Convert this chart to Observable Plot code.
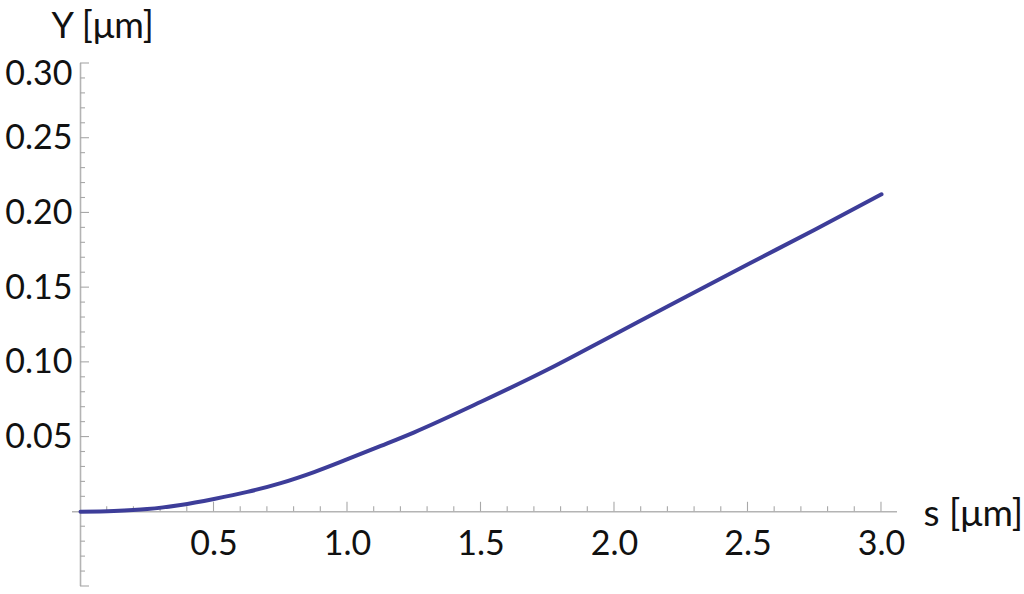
<!DOCTYPE html>
<html>
<head>
<meta charset="utf-8">
<script src="https://cdn.jsdelivr.net/npm/d3@7"></script>
<script src="https://cdn.jsdelivr.net/npm/@observablehq/plot@0.6"></script>
<style>
  html, body { margin: 0; padding: 0; background: #fff; }
  #chart svg { display: block; }
</style>
</head>
<body>
<div id="chart"></div>
<script>
// Data
const sValues = [0, 0.125, 0.25, 0.375, 0.5, 0.625, 0.75, 0.875, 1.0, 1.125, 1.25, 1.5, 1.75, 2.0, 2.25, 2.5, 2.75, 3.0];
const yValues = [0, 0.0005, 0.0018, 0.0046, 0.0086, 0.0133, 0.0192, 0.0266, 0.0352, 0.0441, 0.0532, 0.0736, 0.0952, 0.1187, 0.1422, 0.1656, 0.1888, 0.2125];

const xTickValues = [0.5, 1.0, 1.5, 2.0, 2.5, 3.0];
const xTickLabels = ["0.5", "1.0", "1.5", "2.0", "2.5", "3.0"];
const yTickValues = [0.05, 0.10, 0.15, 0.20, 0.25];
const yTickLabels = ["0.05", "0.10", "0.15", "0.20", "0.25"];
const yTopTickValue = [0.30];
const yTopTickLabel = ["0.30"];
const xMinorTicks = d3.range(1, 31).map(i => i / 10);
const yMinorTicks = d3.range(-5, 31).map(i => i / 100);
const xAxisTitle = "s [μm]";
const yAxisTitle = "Y [μm]";

const xDomain = [-0.03, 3.06];
const yDomain = [-0.05, 0.30];

const data = sValues.map((s, i) => ({s, Y: yValues[i]}));

const font = "Lato, 'Open Sans', sans-serif";
const fs = 34;
const fsTitle = 37;
const axisColor = "#b4b4b4";
const tickColor = "#a8a8a8";

// ticks drawn through the plot's own scales
function tickMarks(index, scales) {
  const g = d3.create("svg:g").attr("stroke", tickColor).attr("stroke-width", 1.1).attr("fill", "none");
  const x0 = scales.x(0), y0 = scales.y(0);
  for (const v of xMinorTicks) {
    const major = Math.abs(v * 2 - Math.round(v * 2)) < 1e-9;
    const px = scales.x(v);
    g.append("line").attr("x1", px).attr("x2", px).attr("y1", y0).attr("y2", y0 - (major ? 9.5 : 5));
  }
  for (const v of yMinorTicks) {
    if (Math.abs(v) < 1e-9) continue;
    const major = Math.abs(v * 20 - Math.round(v * 20)) < 1e-9;
    const py = scales.y(v);
    g.append("line").attr("x1", x0).attr("x2", x0 + (major ? 9 : 5)).attr("y1", py).attr("y2", py);
  }
  return g.node();
}

const chart = Plot.plot({
  width: 1024,
  height: 594,
  marginLeft: 72,
  marginRight: 127,
  marginTop: 63,
  marginBottom: 8,
  style: {fontFamily: font, background: "#fff", overflow: "visible"},
  x: {domain: xDomain, axis: null},
  y: {domain: yDomain, axis: null},
  marks: [
    Plot.ruleY([0], {x1: xDomain[0], x2: xDomain[1], stroke: axisColor, strokeWidth: 1.6}),
    Plot.ruleX([0], {y1: yDomain[0], y2: yDomain[1], stroke: axisColor, strokeWidth: 1.6}),
    tickMarks,
    Plot.text(xTickValues, {x: d => d, y: 0, text: (d, i) => xTickLabels[i], dy: 32, fontSize: fs, fill: "#111"}),
    Plot.text(yTickValues, {x: 0, y: d => d, text: (d, i) => yTickLabels[i], textAnchor: "end", dx: -8, fontSize: fs, fill: "#111"}),
    Plot.text(yTopTickValue, {x: 0, y: d => d, text: (d, i) => yTopTickLabel[i], textAnchor: "end", dx: -8, dy: 11, fontSize: fs, fill: "#111"}),
    Plot.text([yAxisTitle], {x: 0, y: yDomain[1], text: d => d, textAnchor: "start", dx: -29, dy: -37, fontSize: 36, fill: "#111"}),
    Plot.text([xAxisTitle], {x: xDomain[1], y: 0, text: d => d, textAnchor: "start", dx: 26, dy: 2, fontSize: fsTitle, fill: "#111"}),
    Plot.line(data, {x: "s", y: "Y", stroke: "#3d3d99", strokeWidth: 4, curve: "monotone-x", strokeLinecap: "round"})
  ]
});
document.getElementById("chart").appendChild(chart);
</script>
</body>
</html>
